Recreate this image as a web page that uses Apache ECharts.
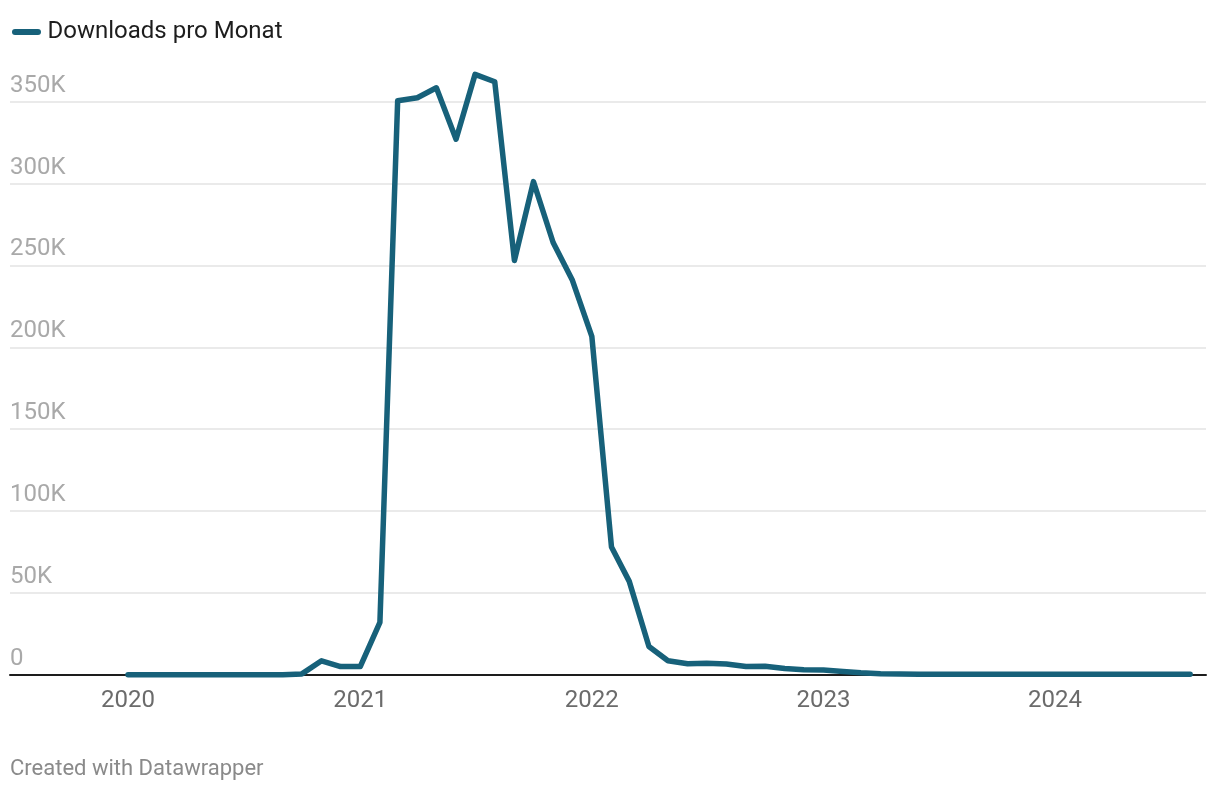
<!DOCTYPE html>
<html>
<head>
<meta charset="utf-8">
<script src="https://cdn.jsdelivr.net/npm/echarts@6/dist/echarts.min.js"></script>
<style>
html,body{margin:0;padding:0;background:#fff;}
#chart{width:1220px;height:792px;}
</style>
</head>
<body>
<div id="chart"></div>
<script>
const seriesName = 'Downloads pro Monat';
const months = [
  '2020-01','2020-02','2020-03','2020-04','2020-05','2020-06','2020-07','2020-08','2020-09','2020-10','2020-11','2020-12',
  '2021-01','2021-02','2021-03','2021-04','2021-05','2021-06','2021-07','2021-08','2021-09','2021-10','2021-11','2021-12',
  '2022-01','2022-02','2022-03','2022-04','2022-05','2022-06','2022-07','2022-08','2022-09','2022-10','2022-11','2022-12',
  '2023-01','2023-02','2023-03','2023-04','2023-05','2023-06','2023-07','2023-08','2023-09','2023-10','2023-11','2023-12',
  '2024-01','2024-02','2024-03','2024-04','2024-05','2024-06','2024-07','2024-08'
];
const downloads = [
  0,0,0,0,0,0,0,0,0,500,8500,5000,
  5000,32000,350600,352400,358500,327100,366700,362200,253000,301200,264000,241300,
  206700,78000,57000,17200,8500,6700,7000,6500,5000,5200,3800,3000,
  2800,2000,1200,600,400,350,300,300,300,250,250,250,
  250,200,200,200,200,200,200,200
];
const yTicks = [0, 50000, 100000, 150000, 200000, 250000, 300000, 350000];
const xDomain = ['2019-06-29', '2024-08-26'];

const data = months.map((m, i) => [m + '-01', downloads[i]]);

const chart = echarts.init(document.getElementById('chart'), null, {renderer: 'canvas'});
chart.setOption({
  animation: false,
  textStyle: {fontFamily: 'Roboto'},
  grid: {left: 10, right: 14, top: 101.7, bottom: 117.3, containLabel: false},
  legend: {
    show: true,
    left: 7,
    top: 15,
    icon: 'path://M3,0 H26 A3,3 0 0 1 26,6 H3 A3,3 0 0 1 3,0 Z',
    itemWidth: 30,
    itemHeight: 6,
    itemGap: 10,
    textStyle: {fontSize: 24, color: '#1d1d1d', fontFamily: 'Roboto', padding: [0,0,0,1]},
    data: [seriesName]
  },
  xAxis: {
    type: 'time',
    min: xDomain[0],
    max: xDomain[1],
    minInterval: 300 * 86400000,
    maxInterval: 400 * 86400000,
    axisLine: {show: true, onZero: true, lineStyle: {color: '#1d1d1d', width: 2}},
    axisTick: {show: false},
    splitLine: {show: false},
    axisLabel: {
      fontSize: 24,
      color: '#6b6b6b',
      margin: 14,
      hideOverlap: false,
      formatter: function (v) {
        const d = new Date(v);
        if (d.getMonth() === 0 && d.getDate() === 1) return String(d.getFullYear());
        return '';
      }
    }
  },
  yAxis: {
    type: 'value',
    min: yTicks[0],
    max: yTicks[yTicks.length - 1],
    interval: 50000,
    axisLine: {show: false},
    axisTick: {show: false},
    splitLine: {show: true, lineStyle: {color: '#e3e3e3', width: 1.5}},
    axisLabel: {
      inside: true,
      verticalAlign: 'bottom',
      align: 'left',
      margin: 0,
      padding: [0, 0, 4, 0],
      fontSize: 24,
      color: '#a9a9a9',
      formatter: function (v) { return v === 0 ? '0' : (v / 1000) + 'K'; }
    }
  },
  graphic: [{
    type: 'text',
    left: 10,
    top: 758,
    style: {text: 'Created with Datawrapper', fontSize: 22, fill: '#8a8a8a', fontFamily: 'Roboto'}
  }],
  series: [{
    name: seriesName,
    type: 'line',
    data: data,
    clip: false,
    showSymbol: false,
    symbol: 'none',
    lineStyle: {color: '#17617a', width: 5.5, join: 'round', cap: 'round'},
    itemStyle: {color: '#17617a'}
  }]
});
</script>
</body>
</html>
